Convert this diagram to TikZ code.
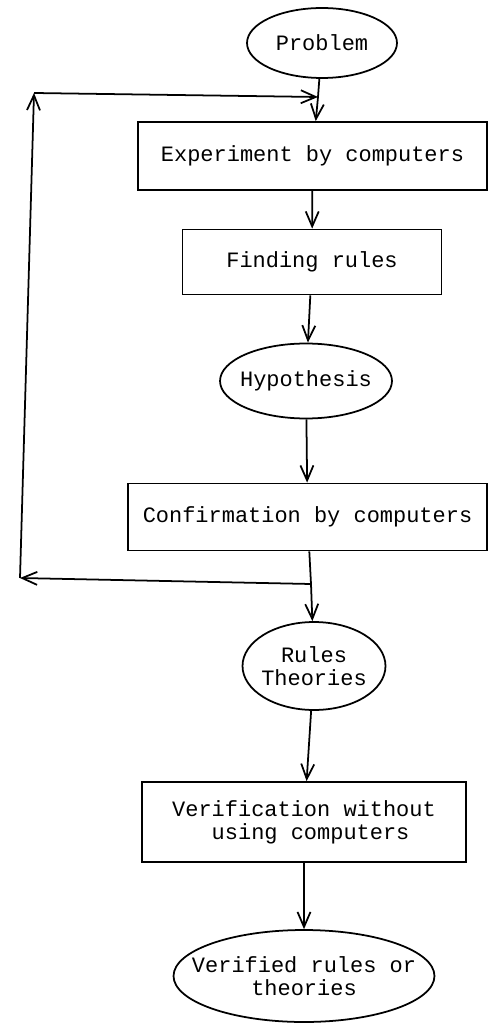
\documentclass[tikz,border=0pt]{standalone}
\usepackage{fontspec}
\setmonofont{Liberation Mono}
\usetikzlibrary{shapes.geometric,arrows.meta}

\tikzset{
  every node/.style={font=\ttfamily\fontsize{12.5}{13}\selectfont, align=center},
  terminal/.style={draw, ellipse, inner sep=0pt},
  process/.style={draw, rectangle, inner sep=0pt},
  flow/.style={-{Straight Barb[length=3mm, width=2.6mm]}}
}

\begin{document}
\begin{tikzpicture}[x=0.02cm, y=-0.02cm, line width=1pt]
  \useasboundingbox (0,0) rectangle (487,1023);

  % main column
  \node[terminal, minimum width=3cm, minimum height=1.4cm, label=center:Problem] (prob) at (322,43) {};
  \node[process, minimum width=6.98cm, minimum height=1.36cm] (expe) at (312.5,156) {Experiment by computers};
  \node[process, minimum width=5.18cm, minimum height=1.3cm] (find) at (312,262) {Finding rules};
  \node[terminal, minimum width=3.44cm, minimum height=1.5cm, label=center:Hypothesis] (hypo) at (306,381) {};
  \node[process, minimum width=7.18cm, minimum height=1.34cm] (conf) at (307.5,517) {Confirmation by computers};
  \node[terminal, minimum width=2.86cm, minimum height=1.76cm, label={center:{Rules\\Theories}}] (rule) at (314,666) {};
  \node[process, minimum width=6.48cm, minimum height=1.6cm] (veri) at (304,822) {Verification without\\~using computers};
  \node[terminal, minimum width=5.22cm, minimum height=1.84cm, label={center:{Verified rules or\\theories}}] (fini) at (304,976) {};

  % junctions of the loop
  \coordinate (jin) at (318,97);
  \coordinate (jout) at (311,584);
  \coordinate (lbot) at (20,578);
  \coordinate (ltop) at (34,93);

  \draw (prob) -- (jin);
  \draw[flow] (jin) -- (expe);
  \draw[flow] (expe) -- (find);
  \draw[flow] (find) -- (hypo);
  \draw[flow] (hypo) -- (conf);
  \draw (conf) -- (jout);
  \draw[flow] (jout) -- (rule);
  \draw[flow] (rule) -- (veri);
  \draw[flow] (veri) -- (fini);

  % back loop
  \draw[flow] (jout) -- (lbot);
  \draw[flow] (lbot) -- (ltop);
  \draw[flow] (ltop) -- (jin);
\end{tikzpicture}
\end{document}
